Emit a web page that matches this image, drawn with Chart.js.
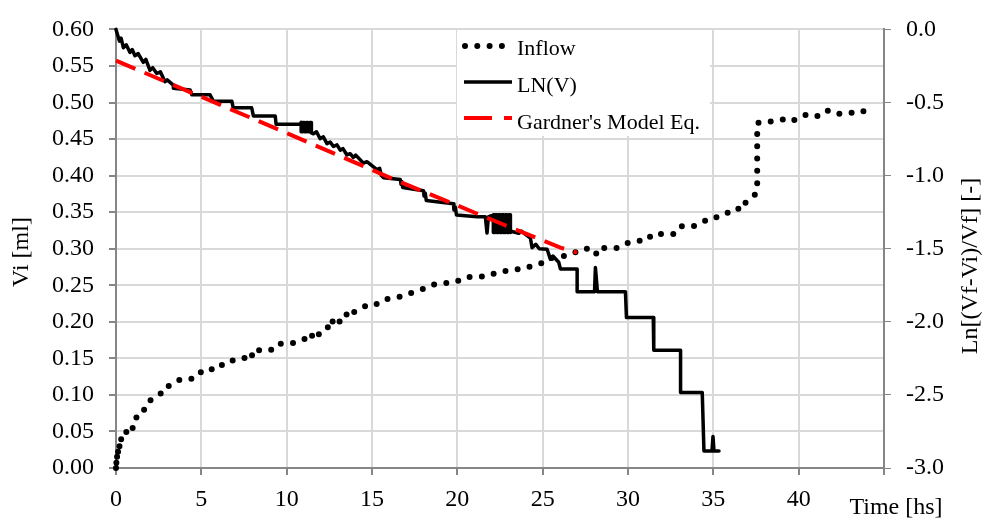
<!DOCTYPE html>
<html>
<head>
<meta charset="utf-8">
<script src="https://cdn.jsdelivr.net/npm/chart.js@4.4.1/dist/chart.umd.min.js"></script>
<style>
  body { margin: 0; background: #fff; }
  #wrap { width: 984px; height: 520px; }
</style>
</head>
<body>
<div id="wrap"><canvas id="chart" width="984" height="520"></canvas></div>
<script>
// Inflow, Vi [ml] (left axis)
const inflowTime = [0.00, 0.05, 0.02, 0.10, 0.06, 0.16, 0.12, 0.23, 0.20, 0.33, 0.28, 0.53, 0.78, 1.01, 1.11, 1.21, 1.51, 1.60, 1.89, 1.99, 2.29, 2.68, 2.77, 3.36, 3.75, 4.43,
    4.79, 5.47, 5.81, 6.49, 6.88, 7.51, 7.86, 8.05, 8.35, 9.07, 9.42, 10.16, 10.79, 11.09, 11.28, 11.38, 11.77, 11.70, 11.87, 11.96, 12.45,
    12.40, 12.65, 13.14, 13.05, 13.33, 13.53, 13.45, 13.92, 14.50, 14.70, 15.19, 15.58, 16.16, 16.55, 16.85, 17.34, 17.83, 18.32, 18.61, 19.30, 19.98, 20.28, 20.96,
    21.54, 21.94, 22.23, 22.72, 23.21, 23.99, 24.48, 24.87, 25.26, 25.45, 25.94, 26.53, 26.82, 27.31, 27.99, 28.19, 28.58, 29.36, 29.85, 30.43,
    31.12, 31.41, 32.79, 33.17, 33.85, 34.35, 34.84, 35.32, 35.82, 36.40, 36.59, 36.89, 37.38, 37.57, 37.57, 38.06, 38.55, 39.13, 39.37, 39.92,
    40.50, 41.19, 41.68, 42.17, 42.76, 43.24, 43.63, 43.93, 44.32];
const inflowVol = [0.000, 0.012, 0.007, 0.019, 0.015, 0.027, 0.022, 0.034, 0.029, 0.042, 0.037, 0.045, 0.059, 0.054, 0.063, 0.070, 0.072, 0.079, 0.083, 0.092, 0.097, 0.103, 0.110, 0.114, 0.121, 0.122,
    0.131, 0.131, 0.141, 0.141, 0.148, 0.150, 0.159, 0.151, 0.161, 0.161, 0.170, 0.170, 0.173, 0.177, 0.173, 0.179, 0.186, 0.183, 0.182, 0.188, 0.193,
    0.190, 0.200, 0.204, 0.200, 0.202, 0.211, 0.207, 0.213, 0.220, 0.223, 0.223, 0.230, 0.232, 0.234, 0.235, 0.240, 0.244, 0.247, 0.251, 0.253, 0.255, 0.260, 0.262,
    0.262, 0.263, 0.267, 0.269, 0.271, 0.273, 0.278, 0.280, 0.282, 0.287, 0.289, 0.291, 0.294, 0.300, 0.300, 0.291, 0.301, 0.301, 0.307, 0.311,
    0.311, 0.320, 0.320, 0.331, 0.331, 0.336, 0.343, 0.343, 0.349, 0.356, 0.352, 0.363, 0.372, 0.379, 0.472, 0.474, 0.474, 0.477, 0.474, 0.477,
    0.484, 0.481, 0.489, 0.484, 0.486, 0.486, 0.489, 0.487, 0.488];

// LN(V), Ln[(Vf-Vi)/Vf] (right axis)
const lnTime = [0.00, 0.20, 0.30, 0.43, 0.60, 0.82, 0.95, 1.11, 1.30, 1.60, 1.75, 1.99, 2.15, 2.39, 2.60, 2.87, 3.00, 3.36, 3.36, 4.34,
    4.44, 5.51, 5.71, 6.79, 6.87, 7.95, 8.05, 9.33, 9.38, 10.79,
    10.85, 10.85, 10.95, 10.95, 11.05, 11.05, 11.15, 11.15, 11.25, 11.25, 11.35, 11.35, 11.45, 11.45,
    11.57, 11.75, 11.96, 12.15, 12.36,
    12.55, 12.74, 12.95, 13.14, 13.30, 13.53, 13.72, 13.90, 14.05, 14.50, 14.70, 15.29, 15.45, 15.55, 15.68, 16.66, 16.70, 16.75, 16.80, 18.02,
    18.05, 18.12, 18.18, 19.78, 19.80, 19.88, 19.95, 21.16, 21.64, 21.74, 21.82,
    22.11, 22.11, 22.21, 22.21, 22.31, 22.31, 22.41, 22.41, 22.51, 22.51, 22.61, 22.61, 22.71, 22.71, 22.81, 22.81, 22.91, 22.91, 23.01, 23.01, 23.11, 23.11,
    23.21, 23.60, 23.75, 24.28, 24.38, 24.60, 24.80, 25.26, 25.45, 25.60, 25.94, 26.04, 27.02, 27.02, 28.04, 28.09, 28.21, 29.85, 29.91, 31.48,
    31.51, 33.08, 33.08, 34.35, 34.45, 34.92, 34.98, 35.04, 35.33];
const lnValue = [0.000, -0.080, -0.060, -0.125, -0.105, -0.158, -0.138, -0.180, -0.165, -0.225, -0.205, -0.280, -0.262, -0.302, -0.290, -0.358, -0.345, -0.381, -0.403, -0.414,
    -0.447, -0.447, -0.492, -0.492, -0.536, -0.536, -0.592, -0.592, -0.648, -0.648,
    -0.636, -0.700, -0.700, -0.636, -0.636, -0.700, -0.700, -0.636, -0.636, -0.700, -0.700, -0.636, -0.636, -0.708,
    -0.714, -0.700, -0.748, -0.735, -0.781,
    -0.770, -0.801, -0.790, -0.826, -0.815, -0.859, -0.850, -0.875, -0.860, -0.915, -0.905, -0.959, -0.950, -1.000, -1.015, -1.026, -1.060, -1.040, -1.081, -1.103,
    -1.140, -1.120, -1.170, -1.193, -1.235, -1.215, -1.270, -1.282, -1.282, -1.393, -1.282,
    -1.268, -1.389, -1.389, -1.268, -1.268, -1.389, -1.389, -1.268, -1.268, -1.389, -1.389, -1.268, -1.268, -1.389, -1.389, -1.268, -1.268, -1.389, -1.389, -1.268, -1.268, -1.389,
    -1.382, -1.395, -1.380, -1.427, -1.493, -1.470, -1.500, -1.504, -1.571, -1.550, -1.593, -1.638, -1.638, -1.794, -1.794, -1.629, -1.794, -1.794, -1.971, -1.971,
    -2.194, -2.194, -2.483, -2.483, -2.884, -2.884, -2.784, -2.884, -2.884];

// Gardner's model (right axis)
const gardnerTime = [0.00, 10.11, 16.07, 22.52, 26.04, 27.02];
const gardnerValue = [-0.214, -0.714, -1.015, -1.326, -1.493, -1.527];

const legendLabels = ["Inflow", "LN(V)", "Gardner's Model Eq."];

const FONT = 'Liberation Serif';
const AXIS_GREY = '#868686';
const GRID_GREY = '#d9d9d9';

function toPoints(xs, ys) {
    let pts = [];
    for (let i = 0; i < xs.length; i++) {
        pts.push({ x: xs[i], y: ys[i] });
    }
    return pts;
}

const overlay = {
    id: 'overlay',
    afterDraw(chart) {
        const ctx = chart.ctx;
        ctx.save();

        // legend
        ctx.fillStyle = '#fff';
        ctx.fillRect(457, 30, 253, 106);
        ctx.lineCap = 'round';
        ctx.strokeStyle = '#000';
        ctx.lineWidth = 6;
        ctx.setLineDash([0, 12.3]);
        ctx.beginPath();
        ctx.moveTo(465, 46);
        ctx.lineTo(503, 46);
        ctx.stroke();

        ctx.lineCap = 'butt';
        ctx.setLineDash([]);
        ctx.lineWidth = 3.5;
        ctx.beginPath();
        ctx.moveTo(464, 82);
        ctx.lineTo(512, 82);
        ctx.stroke();

        ctx.strokeStyle = '#ff0000';
        ctx.lineWidth = 4;
        ctx.setLineDash([28, 12]);
        ctx.beginPath();
        ctx.moveTo(464, 118);
        ctx.lineTo(512, 118);
        ctx.stroke();
        ctx.setLineDash([]);

        ctx.fillStyle = '#000';
        ctx.font = '22px "' + FONT + '"';
        ctx.textAlign = 'left';
        ctx.textBaseline = 'middle';
        ctx.fillText(legendLabels[0], 517, 49);
        ctx.fillText(legendLabels[1], 517, 86);
        ctx.fillText(legendLabels[2], 517, 123);

        // axis titles
        ctx.font = '24px "' + FONT + '"';
        ctx.textAlign = 'center';
        ctx.fillText('Time [hs]', 896, 508);

        ctx.save();
        ctx.translate(22, 252);
        ctx.rotate(-Math.PI / 2);
        ctx.fillText('Vi [ml]', 0, 0);
        ctx.restore();

        ctx.save();
        ctx.translate(971, 266);
        ctx.rotate(-Math.PI / 2);
        ctx.fillText('Ln[(Vf-Vi)/Vf] [-]', 0, 0);
        ctx.restore();

        ctx.restore();
    }
};

const ctx = document.getElementById('chart');
const tickFont = { family: FONT, size: 24 };

new Chart(ctx, {
    type: 'scatter',
    data: {
        datasets: [
            {
                label: legendLabels[2],
                data: toPoints(gardnerTime, gardnerValue),
                yAxisID: 'y2',
                showLine: true,
                borderColor: '#ff0000',
                borderWidth: 4,
                borderDash: [21, 10],
                pointRadius: 0,
                clip: false,
                order: 0
            },
            {
                label: legendLabels[1],
                data: toPoints(lnTime, lnValue),
                yAxisID: 'y2',
                showLine: true,
                borderColor: '#000',
                borderWidth: 3.5,
                borderJoinStyle: 'round',
                borderCapStyle: 'round',
                pointRadius: 0,
                clip: false,
                order: 1
            },
            {
                label: legendLabels[0],
                data: toPoints(inflowTime, inflowVol),
                yAxisID: 'y',
                showLine: true,
                borderColor: '#000',
                borderWidth: 6,
                borderDash: [0, 12.3],
                borderCapStyle: 'round',
                borderJoinStyle: 'round',
                pointRadius: 0,
                clip: false,
                order: 2
            }
        ]
    },
    options: {
        responsive: false,
        animation: false,
        layout: { padding: { top: 18, left: 0, right: 0, bottom: 0 } },
        plugins: {
            legend: { display: false },
            tooltip: { enabled: false }
        },
        scales: {
            x: {
                type: 'linear',
                min: 0,
                max: 45,
                ticks: {
                    stepSize: 5,
                    autoSkip: false,
                    maxRotation: 0,
                    color: '#000',
                    font: tickFont,
                    padding: 10,
                    callback: v => v === 45 ? '' : v
                },
                grid: { color: GRID_GREY, lineWidth: 2, tickColor: AXIS_GREY, tickLength: 7 },
                border: { color: AXIS_GREY, width: 2 },
                afterFit: s => { s.height = 52; }
            },
            y: {
                position: 'left',
                min: 0,
                max: 0.6,
                ticks: {
                    stepSize: 0.05,
                    color: '#000',
                    font: tickFont,
                    padding: 15,
                    callback: v => v.toFixed(2)
                },
                grid: { color: GRID_GREY, lineWidth: 2, tickColor: AXIS_GREY, tickLength: 7 },
                border: { color: AXIS_GREY, width: 2 },
                afterFit: s => { s.width = 116; }
            },
            y2: {
                position: 'right',
                min: -3,
                max: 0,
                ticks: {
                    stepSize: 0.5,
                    color: '#000',
                    font: tickFont,
                    padding: 15,
                    callback: v => v.toFixed(1)
                },
                grid: { drawOnChartArea: false, tickColor: AXIS_GREY, tickLength: 7 },
                border: { color: AXIS_GREY, width: 2 },
                afterFit: s => { s.width = 100; }
            }
        }
    },
    plugins: [overlay]
});
</script>
</body>
</html>
